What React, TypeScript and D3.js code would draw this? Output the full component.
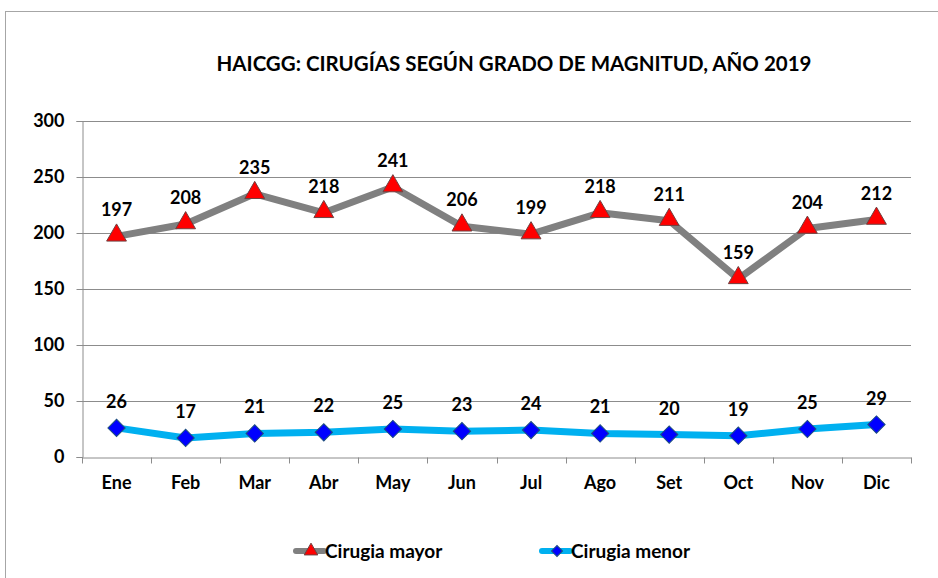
import { useEffect, useRef } from 'react';
import * as d3 from 'd3';

const months = ['Ene', 'Feb', 'Mar', 'Abr', 'May', 'Jun', 'Jul', 'Ago', 'Set', 'Oct', 'Nov', 'Dic'];
const mayor = [197, 208, 235, 218, 241, 206, 199, 218, 211, 159, 204, 212];
const menor = [26, 17, 21, 22, 25, 23, 24, 21, 20, 19, 25, 29];
const yTicks = [0, 50, 100, 150, 200, 250, 300];

const W = 938;
const H = 578;
const FONT = 'Lato, "Open Sans", sans-serif';

const App = () => {
  const svgRef = useRef<SVGSVGElement>(null);

  useEffect(() => {
    const svg = d3.select(svgRef.current);
    svg.selectAll('*').remove();

    const x = d3.scaleBand().domain(months).range([82, 911]);
    const y = d3.scaleLinear().domain([0, 300]).range([457, 121]);
    const cx = (m: string) => (x(m) as number) + x.bandwidth() / 2;

    // outer frame
    svg.append('rect').attr('x', 5.5).attr('y', 11.5).attr('width', 940).attr('height', 600)
      .attr('fill', 'white').attr('stroke', '#a6a6a6').attr('stroke-width', 1);

    svg.append('text').attr('x', 514).attr('y', 71).attr('text-anchor', 'middle')
      .attr('font-family', FONT).attr('font-weight', 'bold').attr('font-size', 20.5)
      .attr('fill', '#000').text('HAICGG: CIRUGÍAS SEGÚN GRADO DE MAGNITUD, AÑO 2019');

    // gridlines
    svg.append('g').selectAll('line').data(yTicks.filter(t => t > 0)).join('line')
      .attr('x1', 82).attr('x2', 911)
      .attr('y1', d => Math.round(y(d)) + 0.5).attr('y2', d => Math.round(y(d)) + 0.5)
      .attr('stroke', '#8c8c8c').attr('stroke-width', 1);

    // y axis
    const yAxis = svg.append('g').attr('transform', 'translate(82.5,0)')
      .call(d3.axisLeft(y).tickValues(yTicks).tickSize(6).tickPadding(12));
    yAxis.select('.domain').attr('stroke', '#8c8c8c');
    yAxis.selectAll('line').attr('stroke', '#8c8c8c');
    yAxis.selectAll('text').attr('font-family', FONT).attr('font-weight', 'bold')
      .attr('font-size', 18).attr('fill', '#000');

    // x axis
    const xAxis = svg.append('g').attr('transform', `translate(0,${Math.round(y(0)) + 0.5})`)
      .call(d3.axisBottom(x).tickSize(0).tickPadding(19));
    xAxis.select('.domain').attr('stroke', '#8c8c8c');
    xAxis.selectAll('text').attr('font-family', FONT).attr('font-weight', 'bold')
      .attr('font-size', 18).attr('fill', '#000');
    const bounds = [...months.map(m => x(m) as number), 911];
    xAxis.append('g').selectAll('line').data(bounds).join('line')
      .attr('x1', d => Math.round(d) + 0.5).attr('x2', d => Math.round(d) + 0.5)
      .attr('y1', 0).attr('y2', 6).attr('stroke', '#8c8c8c');

    const lineGen = (vals: number[]) =>
      d3.line<number>().x((_, i) => cx(months[i])).y(v => y(v))(vals);

    const tri = d3.symbol().type(d3.symbolTriangle).size(170);
    const dia = d3.symbol().type(d3.symbolSquare).size(150);
    const triSmall = d3.symbol().type(d3.symbolTriangle).size(80);
    const diaSmall = d3.symbol().type(d3.symbolSquare).size(60);

    // series mayor
    svg.append('path').attr('d', lineGen(mayor)).attr('fill', 'none')
      .attr('stroke', '#808080').attr('stroke-width', 7).attr('stroke-linejoin', 'round');
    svg.append('g').selectAll('path').data(mayor).join('path')
      .attr('d', tri).attr('transform', (d, i) => `translate(${cx(months[i])},${y(d) - 1})`)
      .attr('fill', '#ff0000').attr('stroke', '#6f4040').attr('stroke-width', 1);
    svg.append('g').selectAll('text').data(mayor).join('text')
      .attr('x', (_, i) => cx(months[i])).attr('y', d => y(d) - 20)
      .attr('text-anchor', 'middle').attr('font-family', FONT).attr('font-weight', 'bold')
      .attr('font-size', 18).attr('fill', '#000').text(d => d);

    // series menor
    svg.append('path').attr('d', lineGen(menor)).attr('fill', 'none')
      .attr('stroke', '#00b0f0').attr('stroke-width', 7).attr('stroke-linejoin', 'round');
    svg.append('g').selectAll('path').data(menor).join('path')
      .attr('d', dia).attr('transform', (d, i) => `translate(${cx(months[i])},${y(d)}) rotate(45)`)
      .attr('fill', '#0000ff').attr('stroke', '#1f4f7f').attr('stroke-width', 1);
    svg.append('g').selectAll('text').data(menor).join('text')
      .attr('x', (_, i) => cx(months[i])).attr('y', d => y(d) - 20)
      .attr('text-anchor', 'middle').attr('font-family', FONT).attr('font-weight', 'bold')
      .attr('font-size', 18).attr('fill', '#000').text(d => d);

    // legend
    const legend = [
      { name: 'Cirugia mayor', color: '#808080', x: 296, marker: triSmall, fill: '#ff0000', stroke: '#6f4040', rot: 0 },
      { name: 'Cirugia menor', color: '#00b0f0', x: 542, marker: diaSmall, fill: '#0000ff', stroke: '#1f4f7f', rot: 45 },
    ];
    const lg = svg.append('g').selectAll('g').data(legend).join('g')
      .attr('transform', d => `translate(${d.x},551)`);
    lg.append('line').attr('x1', 0).attr('x2', 28).attr('y1', 0).attr('y2', 0)
      .attr('stroke', d => d.color).attr('stroke-width', 6).attr('stroke-linecap', 'round');
    lg.append('path').attr('d', d => d.marker()).attr('transform', d => `translate(15,0) rotate(${d.rot})`)
      .attr('fill', d => d.fill).attr('stroke', d => d.stroke);
    lg.append('text').attr('x', 29).attr('y', 6.5).attr('font-family', FONT).attr('font-weight', 'bold')
      .attr('font-size', 19).attr('fill', '#000').text(d => d.name);
  }, []);

  return (
    <svg ref={svgRef} width={W} height={H} style={{ position: 'absolute', left: 0, top: 0 }} />
  );
};

export default App;
